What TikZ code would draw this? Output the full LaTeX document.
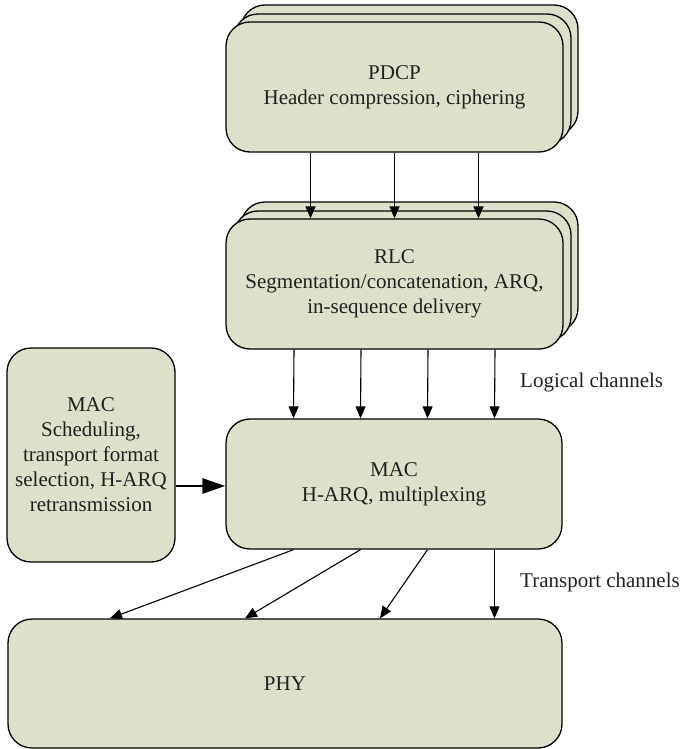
\documentclass[tikz,border=0pt]{standalone}
\usepackage{fontspec}
\setmainfont{Liberation Serif}
\usetikzlibrary{arrows.meta}
\definecolor{boxfill}{RGB}{221,225,204}
\definecolor{txt}{RGB}{35,31,32}
\tikzset{
  layerbox/.style={draw=black, line width=1.3pt, fill=boxfill, rounded corners=24pt,
    align=center, text=txt, font=\fontsize{21}{25}\selectfont, inner sep=0pt},
  arr/.style={draw=black, line width=1.1pt, -{Triangle[length=12pt,width=10pt]}},
  thickarr/.style={draw=black, line width=2.6pt, -{Triangle[length=23pt,width=15pt]}},
  chlabel/.style={anchor=west, text=txt, font=\fontsize{21}{25}\selectfont, inner sep=0pt}
}
\begin{document}
\begin{tikzpicture}[x=1pt,y=-1pt]
\useasboundingbox (0,0) rectangle (680,749);
% PDCP stack
\node[layerbox, minimum width=337pt, minimum height=130pt] (pdcpb) at (409.5,70) {};
\node[layerbox, minimum width=337pt, minimum height=130pt] (pdcpm) at (402.5,79) {};
\node[layerbox, minimum width=337pt, minimum height=130pt] (pdcp) at (394.5,87) {PDCP\\Header compression, ciphering};
% RLC stack
\node[layerbox, minimum width=337pt, minimum height=130pt] (rlcb) at (409.5,267) {};
\node[layerbox, minimum width=337pt, minimum height=130pt] (rlcm) at (402.5,276) {};
\node[layerbox, minimum width=337pt, minimum height=130pt] (rlc) at (394.5,284) {RLC\\Segmentation/concatenation, ARQ,\\in-sequence delivery};
% MAC
\node[layerbox, minimum width=336pt, minimum height=130pt] (mac) at (394,484) {MAC\\H-ARQ, multiplexing};
\node[layerbox, minimum width=168pt, minimum height=214pt] (macl) at (91,455) {MAC\\Scheduling,\\transport format\\selection, H-ARQ\\retransmission};
% PHY
\node[layerbox, minimum width=554pt, minimum height=129pt] (phy) at (285,683.5) {PHY};
% PDCP -> RLC
\foreach \d in {-84,0,84}
  \draw[arr] ([xshift=\d pt]pdcp.south) -- ([xshift=\d pt]rlc.north);
% RLC -> MAC
\foreach \d in {-100.5,-33.5,33.5,100.5}
  \draw[arr] ([xshift=\d pt]rlc.south) -- ([xshift=\d pt]mac.north);
% MAC -> PHY
\draw[arr] ([xshift=-100.5pt]mac.south) -- ([xshift=-175pt]phy.north);
\draw[arr] ([xshift=-33.5pt]mac.south) -- ([xshift=-40pt]phy.north);
\draw[arr] ([xshift=33.5pt]mac.south) -- ([xshift=95pt]phy.north);
\draw[arr] ([xshift=100.5pt]mac.south) -- ([xshift=209.5pt]phy.north);
% MAC left -> MAC
\draw[thickarr] (macl.east |- 0,486) -- (mac.west |- 0,486);
% labels
\node[chlabel] (lch) at (520,382) {Logical channels};
\node[chlabel] (tch) at (520,582) {Transport channels};
\end{tikzpicture}
\end{document}
